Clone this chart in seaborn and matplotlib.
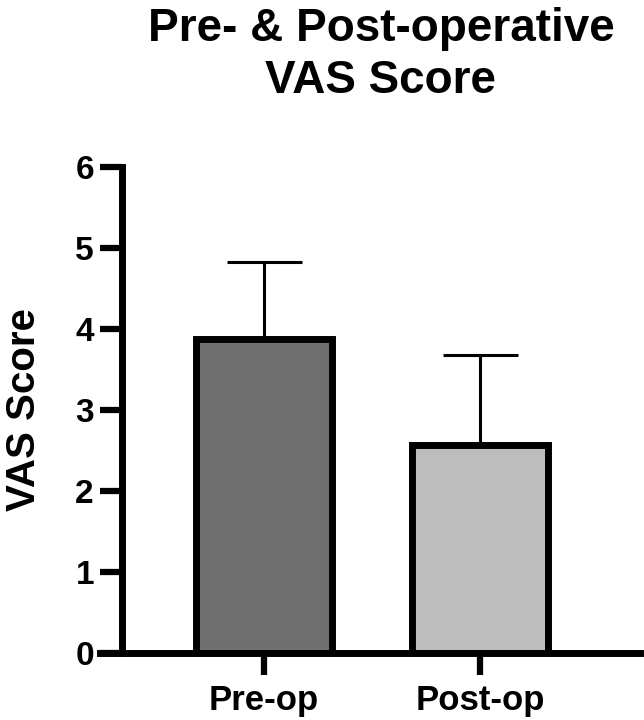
import matplotlib
matplotlib.use("Agg")
import matplotlib.pyplot as plt
import seaborn as sns
import pandas as pd

# data
groups = ["Pre-op", "Post-op"]
means = [3.88, 2.57]
sds = [0.95, 1.11]
bar_colors = ["#707070", "#bdbdbd"]

sns.set_style("ticks")
plt.rcParams["font.family"] = ["Liberation Sans", "DejaVu Sans"]
plt.rcParams["font.weight"] = "bold"
plt.rcParams["text.color"] = "black"
plt.rcParams["axes.labelcolor"] = "black"
plt.rcParams["axes.edgecolor"] = "black"
plt.rcParams["xtick.color"] = "black"
plt.rcParams["ytick.color"] = "black"

df = pd.DataFrame({"group": groups, "score": means})

fig = plt.figure(figsize=(6.44, 7.2), dpi=100)
ax = fig.add_axes([0.189, 0.093, 0.805, 0.675])

# error bars only upward, drawn under the bars
ax.errorbar(range(len(groups)), means, yerr=[[0] * len(sds), sds],
            fmt="none", ecolor="black", elinewidth=2.2, capsize=27, capthick=2.2, zorder=1)

sns.barplot(data=df, x="group", y="score", hue="group", palette=bar_colors,
            errorbar=None, width=0.63, edgecolor="black", linewidth=5, legend=False,
            ax=ax, zorder=2)

ax.set_ylim(0, 6)
ax.set_xlim(-0.657, 1.741)
ax.set_yticks(range(0, 7))
ax.set_xlabel("")
ax.set_ylabel("VAS Score", fontsize=29, fontweight="bold", labelpad=23)
ax.set_title("Pre- & Post-operative\nVAS Score", fontsize=33, fontweight="bold", pad=53, linespacing=1.25)

for s in ["top", "right"]:
    ax.spines[s].set_visible(False)
for s in ["left", "bottom"]:
    ax.spines[s].set_linewidth(5)
ax.spines["bottom"].set_bounds(-0.657 - 22 / 216, 1.741)
ax.spines["bottom"].set_clip_on(False)
ax.tick_params(axis="both", length=16, width=4.5, pad=4)
ax.tick_params(axis="y", labelsize=24)
ax.tick_params(axis="x", labelsize=25, pad=6)
for lab in ax.get_xticklabels() + ax.get_yticklabels():
    lab.set_fontweight("bold")

plt.savefig("out.png", dpi=100)
